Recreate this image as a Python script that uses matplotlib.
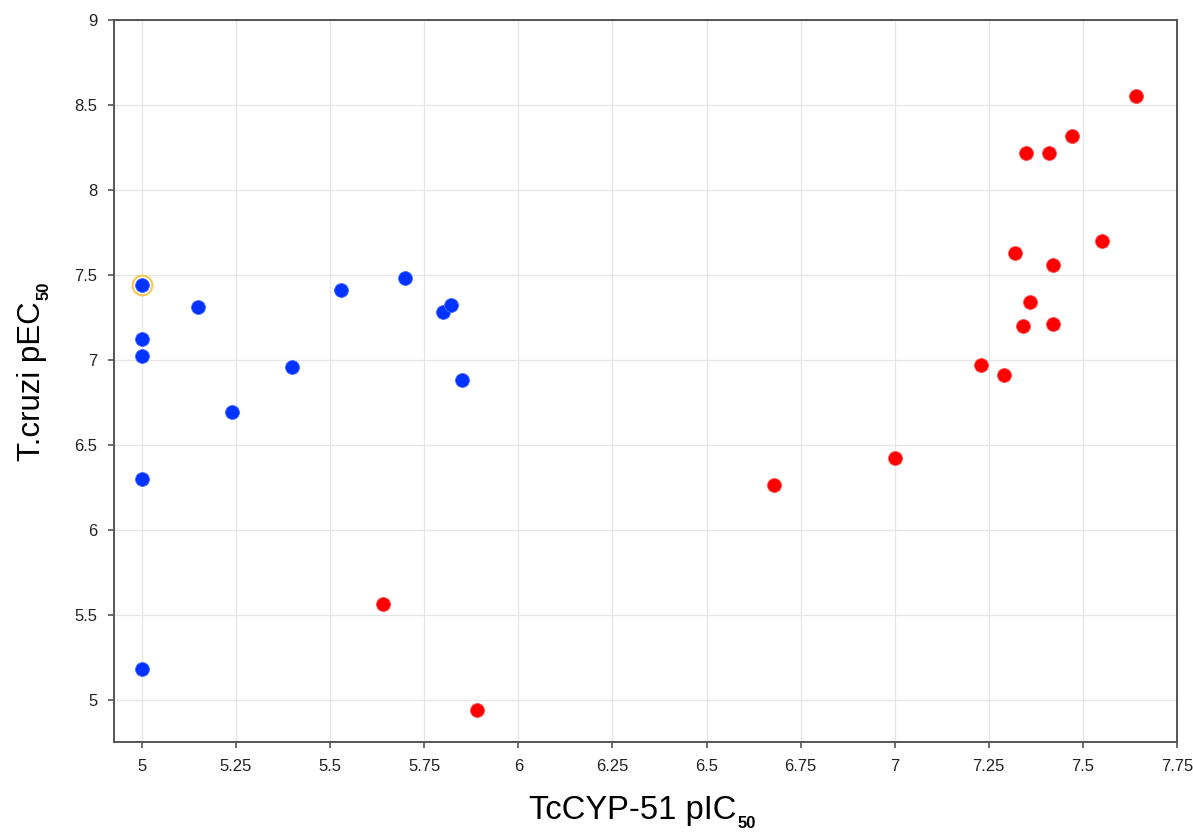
import matplotlib.pyplot as plt

plt.rcParams['font.family'] = ['Liberation Sans', 'DejaVu Sans']

# dati
blue_x = [5.0, 5.0, 5.0, 5.0, 5.0, 5.15, 5.24, 5.40, 5.53, 5.70, 5.80, 5.82, 5.85]
blue_y = [7.44, 7.12, 7.02, 6.30, 5.18, 7.31, 6.69, 6.96, 7.41, 7.48, 7.28, 7.32, 6.88]

red_x = [5.64, 5.89, 6.68, 7.00, 7.23, 7.29, 7.34, 7.42, 7.36, 7.32, 7.42, 7.55, 7.35, 7.41, 7.47, 7.64]
red_y = [5.56, 4.94, 6.26, 6.42, 6.97, 6.91, 7.20, 7.21, 7.34, 7.63, 7.56, 7.70, 8.22, 8.22, 8.32, 8.55]

# punto evidenziato
hl_x = [5.0]
hl_y = [7.44]

x_ticks = [5, 5.25, 5.5, 5.75, 6, 6.25, 6.5, 6.75, 7, 7.25, 7.5, 7.75]
x_labels = ["5", "5.25", "5.5", "5.75", "6", "6.25", "6.5", "6.75", "7", "7.25", "7.5", "7.75"]
y_ticks = [5, 5.5, 6, 6.5, 7, 7.5, 8, 8.5, 9]
y_labels = ["5", "5.5", "6", "6.5", "7", "7.5", "8", "8.5", "9"]

fig = plt.figure(figsize=(11.93, 8.33), dpi=100)
ax = fig.add_axes([0.0956, 0.1092, 0.8910, 0.8668])

ax.scatter(hl_x, hl_y, s=200, color="white", edgecolors="#f7c64a", linewidths=1.5, zorder=2)
ax.scatter(blue_x, blue_y, s=100, color="#0033ff", edgecolors="#4d6bff", linewidths=0.6, zorder=3)
ax.scatter(red_x, red_y, s=100, color="#ff0000", edgecolors="#ff4d4d", linewidths=0.6, zorder=3)

ax.set_xlim(4.926, 7.75)
ax.set_ylim(4.75, 9)
ax.set_xticks(x_ticks)
ax.set_xticklabels(x_labels)
ax.set_yticks(y_ticks)
ax.set_yticklabels(y_labels)

ax.grid(True, color="#e6e6e6", linewidth=0.9)
ax.set_axisbelow(True)
for s in ax.spines.values():
    s.set_color("#555555")
    s.set_linewidth(1.4)
ax.tick_params(axis="both", labelsize=12, colors="#555555", labelcolor="#222222",
               length=4, width=1.2, pad=8)

# etichette degli assi con pedice piccolo in grassetto
ax.set_xlabel("TcCYP-51 pIC", fontsize=23.5, labelpad=15)
ax.xaxis.label.set_x(0.488)
ax.set_ylabel("T.cruzi pEC", fontsize=22.5, labelpad=20)
ax.annotate("50", xy=(1, 0), xycoords=ax.xaxis.label, xytext=(1, -1.5),
            textcoords="offset points", fontsize=12, fontweight="bold",
            ha="left", va="baseline")
ax.annotate("50", xy=(1, 1), xycoords=ax.yaxis.label, xytext=(1.5, 1),
            textcoords="offset points", fontsize=12, fontweight="bold",
            rotation=90, rotation_mode="anchor", ha="left", va="baseline")

plt.savefig("out.png", dpi=100)
